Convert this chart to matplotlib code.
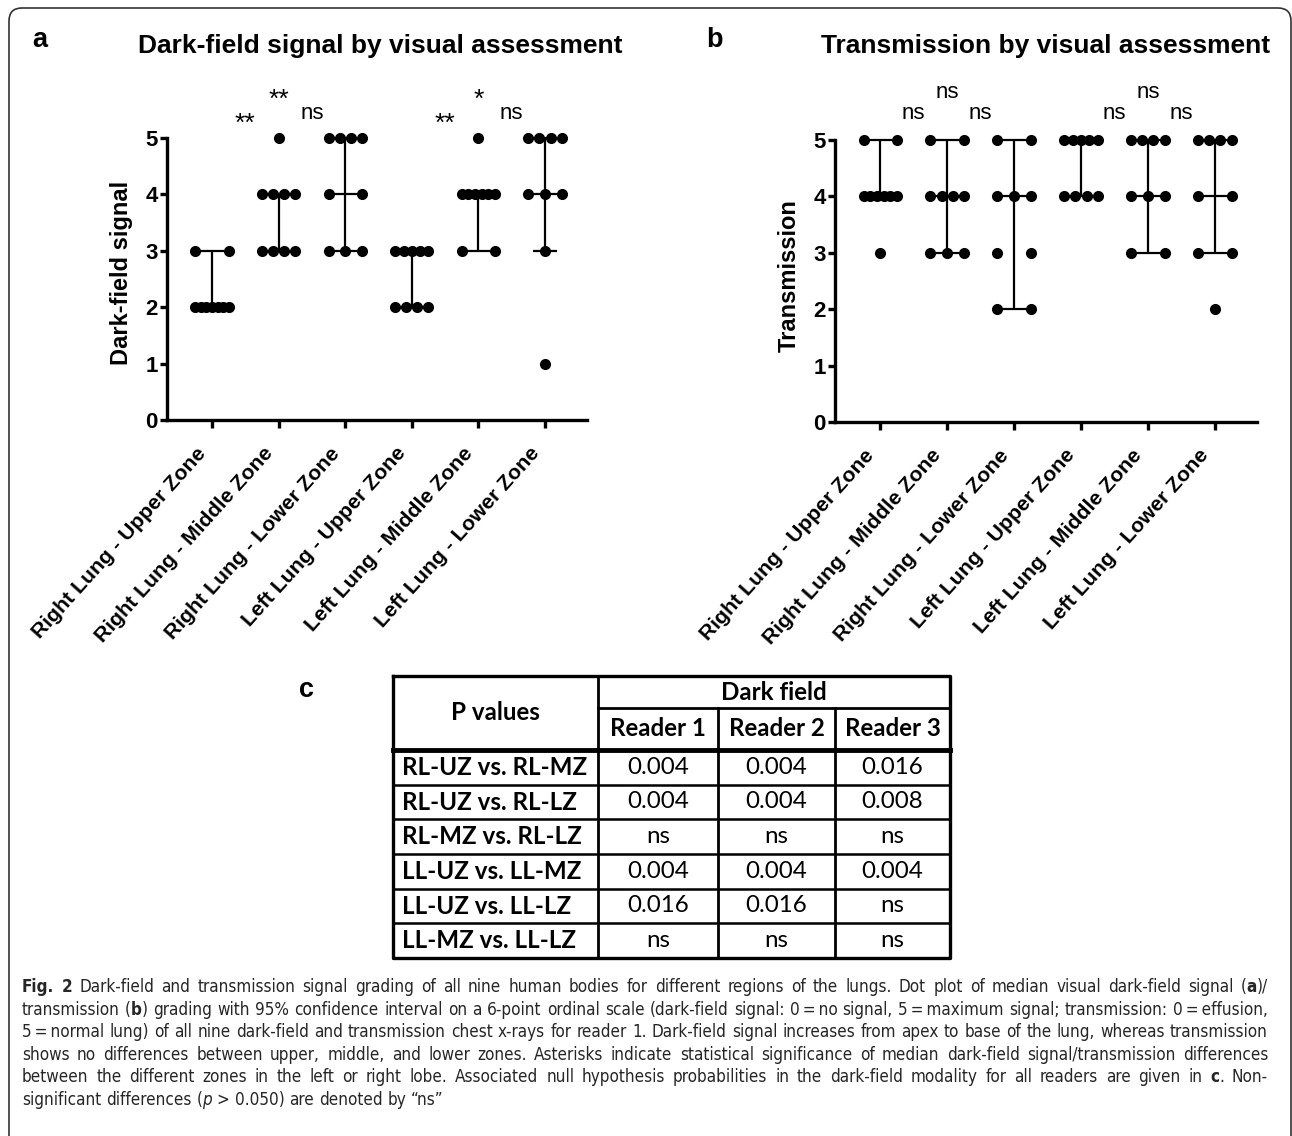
import numpy as np
import matplotlib
matplotlib.use("Agg")
import matplotlib.pyplot as plt
from matplotlib import transforms as mtransforms
from matplotlib.patches import FancyBboxPatch
from matplotlib import font_manager

# ---------------- data ----------------
categories = ["Right Lung - Upper Zone", "Right Lung - Middle Zone", "Right Lung - Lower Zone",
              "Left Lung - Upper Zone", "Left Lung - Middle Zone", "Left Lung - Lower Zone"]

darkfield_scores = [
    [2, 2, 2, 2, 2, 2, 2, 3, 3],
    [3, 3, 3, 3, 4, 4, 4, 4, 5],
    [3, 3, 3, 4, 4, 5, 5, 5, 5],
    [2, 2, 2, 2, 3, 3, 3, 3, 3],
    [3, 3, 4, 4, 4, 4, 4, 4, 5],
    [1, 3, 4, 4, 4, 5, 5, 5, 5],
]
darkfield_ci_low = [2, 3, 3, 2, 3, 3]
darkfield_ci_high = [3, 4, 5, 3, 4, 5]

transmission_scores = [
    [3, 4, 4, 4, 4, 4, 4, 5, 5],
    [3, 3, 3, 4, 4, 4, 4, 5, 5],
    [2, 2, 3, 3, 4, 4, 4, 5, 5],
    [4, 4, 4, 4, 5, 5, 5, 5, 5],
    [3, 3, 4, 4, 4, 5, 5, 5, 5],
    [2, 3, 3, 4, 4, 5, 5, 5, 5],
]
transmission_ci_low = [4, 3, 2, 4, 3, 3]
transmission_ci_high = [5, 5, 5, 5, 5, 5]

darkfield_sig_lower = ["**", "ns", "**", "ns"]
darkfield_sig_upper = ["**", "*"]
transmission_sig_lower = ["ns", "ns", "ns", "ns"]
transmission_sig_upper = ["ns", "ns"]

table_header = "P values"
table_group = "Dark field"
table_readers = ["Reader 1", "Reader 2", "Reader 3"]
table_rows = ["RL-UZ vs. RL-MZ", "RL-UZ vs. RL-LZ", "RL-MZ vs. RL-LZ",
              "LL-UZ vs. LL-MZ", "LL-UZ vs. LL-LZ", "LL-MZ vs. LL-LZ"]
reader1_p = ["0.004", "0.004", "ns", "0.004", "0.016", "ns"]
reader2_p = ["0.004", "0.004", "ns", "0.004", "0.016", "ns"]
reader3_p = ["0.016", "0.008", "ns", "0.004", "ns", "ns"]

caption_lines = [
    [("Fig. 2", "b"), (" Dark-field and transmission signal grading of all nine human bodies for different regions of the lungs. Dot plot of median visual dark-field signal (", "n"), ("a", "b"), (")/", "n")],
    [("transmission (", "n"), ("b", "b"), (") grading with 95% confidence interval on a 6-point ordinal scale (dark-field signal: 0\u2009=\u2009no signal, 5\u2009=\u2009maximum signal; transmission: 0\u2009=\u2009effusion,", "n")],
    [("5\u2009=\u2009normal lung) of all nine dark-field and transmission chest x-rays for reader 1. Dark-field signal increases from apex to base of the lung, whereas transmission", "n")],
    [("shows no differences between upper, middle, and lower zones. Asterisks indicate statistical significance of median dark-field signal/transmission differences", "n")],
    [("between the different zones in the left or right lobe. Associated null hypothesis probabilities in the dark-field modality for all readers are given in ", "n"), ("c", "b"), (". Non-", "n")],
    [("significant differences (", "n"), ("p", "i"), (" > 0.050) are denoted by \u201cns\u201d", "n")],
]

# ---------------- figure ----------------
W, H = 1292, 1136
fig = plt.figure(figsize=(W / 100, H / 100), dpi=100)
fig.patch.set_facecolor("white")
renderer = fig.canvas.get_renderer()

ARIAL = "Liberation Sans"
ttf = font_manager.fontManager.ttflist
names = {f.name for f in ttf}
TAB_FAMILY = "Lato" if "Lato" in names else "DejaVu Sans"
if "Liberation Sans Narrow" in names:
    CAP_FAMILY, CAP_STRETCH = "Liberation Sans Narrow", "normal"
elif any(f.name == "DejaVu Sans" and ("ondensed" in f.fname) for f in ttf):
    CAP_FAMILY, CAP_STRETCH = "DejaVu Sans", "condensed"
else:
    CAP_FAMILY, CAP_STRETCH = "Roboto", "normal"


def fax(x0, y0, x1, y1):
    return [x0 / W, 1 - y1 / H, (x1 - x0) / W, (y1 - y0) / H]


ov = fig.add_axes([0, 0, 1, 1], zorder=0)
ov.set_xlim(0, W)
ov.set_ylim(H, 0)
ov.axis("off")

# figure frame
frame = FancyBboxPatch((0.09, -0.3), 12.82, 11.58, boxstyle="round,pad=0,rounding_size=0.13",
                       transform=fig.dpi_scale_trans, fill=False, ec="#333333", lw=1.2)
fig.add_artist(frame)


def text_w(s, **kw):
    t = fig.text(0, 0, s, **kw)
    w = t.get_window_extent(renderer).width
    t.remove()
    return w


LW = 1.6
SPINE = 2.4
YTICKFS = 16
XTICKFS = 15.3


def draw_panel(ax, scores, lo, hi, ylabel, sig_low, sig_up, y_low, y_up):
    x = np.arange(len(categories))
    w = 0.25
    wc = 0.18
    for i, vals in enumerate(scores):
        vals = np.asarray(vals)
        med = np.median(vals)
        ax.plot([i, i], [lo[i], hi[i]], color="k", lw=LW, solid_capstyle="butt", clip_on=False, zorder=2)
        for yv in (lo[i], hi[i]):
            ax.plot([i - wc, i + wc], [yv, yv], color="k", lw=LW, solid_capstyle="butt", clip_on=False, zorder=2)
        ax.plot([i - w, i + w], [med, med], color="k", lw=LW, solid_capstyle="butt", clip_on=False, zorder=2)
        for v in np.unique(vals):
            n = int(np.sum(vals == v))
            offs = np.array([0.0]) if n == 1 else np.linspace(-w, w, n)
            ax.plot(i + offs, [v] * n, "o", color="k", ms=8.0, mec="none", clip_on=False, zorder=3)
    ax.set_xlim(-0.676, 5.63)
    ax.set_ylim(0, 5)
    ax.patch.set_visible(False)
    for s in ("top", "right"):
        ax.spines[s].set_visible(False)
    for s in ("left", "bottom"):
        ax.spines[s].set_linewidth(SPINE)
    ax.set_yticks(range(6))
    ax.set_yticklabels([str(v) for v in range(6)], fontsize=YTICKFS, fontweight="bold", family=ARIAL)
    ax.tick_params(axis="y", length=5, width=SPINE, pad=1.5)
    ax.tick_params(axis="x", length=6, width=SPINE, pad=2)
    ax.set_xticks(x)
    ax.set_xticklabels(categories, rotation=48, ha="right", va="center", rotation_mode="anchor",
                       fontsize=XTICKFS, fontweight="bold", family=ARIAL)
    off = mtransforms.ScaledTranslation(-0.09, -0.19, fig.dpi_scale_trans)
    for lbl in ax.get_xticklabels():
        lbl.set_transform(lbl.get_transform() + off)
    ax.set_ylabel(ylabel, fontsize=17, fontweight="bold", family=ARIAL)
    ax.yaxis.set_label_coords(-0.08, 0.52)
    for j, s in enumerate(sig_low):
        xp = [0.5, 1.5, 3.5, 4.5][j]
        if s == "ns":
            ax.text(xp, y_low[1], s, ha="center", va="baseline", fontsize=16, family=ARIAL, clip_on=False)
        else:
            ax.text(xp, y_low[0], s, ha="center", va="baseline", fontsize=19, family=ARIAL, clip_on=False)
    for j, s in enumerate(sig_up):
        xp = [1.0, 4.0][j]
        if s == "ns":
            ax.text(xp, y_up[1], s, ha="center", va="baseline", fontsize=16, family=ARIAL, clip_on=False)
        else:
            ax.text(xp, y_up[0], s, ha="center", va="baseline", fontsize=19, family=ARIAL, clip_on=False)


axA = fig.add_axes(fax(167, 138, 587, 420), zorder=2)
draw_panel(axA, darkfield_scores, darkfield_ci_low, darkfield_ci_high, "Dark-field signal",
           darkfield_sig_lower, darkfield_sig_upper, (5.12, 5.34), (5.55, 5.74))
axB = fig.add_axes(fax(835, 140, 1257, 422), zorder=2)
draw_panel(axB, transmission_scores, transmission_ci_low, transmission_ci_high, "Transmission",
           transmission_sig_lower, transmission_sig_upper, (5.12, 5.37), (5.55, 5.74))

# titles and panel letters
ov.text(380, 46, "Dark-field signal by visual assessment", ha="center", va="center",
        fontsize=19, fontweight="bold", family=ARIAL)
ov.text(1046, 46, "Transmission by visual assessment", ha="center", va="center",
        fontsize=19, fontweight="bold", family=ARIAL)
ov.text(40, 40, "a", ha="center", va="center", fontsize=19.5, fontweight="bold", family=ARIAL)
ov.text(714, 40, "b", ha="center", va="center", fontsize=19.5, fontweight="bold", family=ARIAL)
ov.text(306, 690, "c", ha="center", va="center", fontsize=19.5, fontweight="bold", family=ARIAL)

# ---------------- table ----------------
tx = [393, 598, 718, 835, 950]
ty_top, ty_mid, ty_head = 676, 708, 750
ty_bot = 958
row_h = (ty_bot - ty_head) / len(table_rows)

base = 16
wref = text_w(table_rows[0], fontsize=base, fontweight="bold", family=TAB_FAMILY)
tab_fs = base * 185 / wref

lk = dict(color="k", solid_capstyle="projecting")
ov.plot([tx[0], tx[-1], tx[-1], tx[0], tx[0]], [ty_top, ty_top, ty_bot, ty_bot, ty_top], lw=2.4, **lk)
ov.plot([tx[1], tx[1]], [ty_top, ty_bot], lw=2.0, **lk)
ov.plot([tx[1], tx[-1]], [ty_mid, ty_mid], lw=2.0, **lk)
for xc in tx[2:4]:
    ov.plot([xc, xc], [ty_mid, ty_bot], lw=2.0, **lk)
ov.plot([tx[0], tx[-1]], [ty_head, ty_head], lw=3.5, **lk)
for r in range(1, len(table_rows)):
    yy = ty_head + r * row_h
    ov.plot([tx[0], tx[-1]], [yy, yy], lw=1.8, **lk)

ov.text((tx[0] + tx[1]) / 2, (ty_top + ty_head) / 2, table_header, ha="center", va="center",
        fontsize=tab_fs, fontweight="bold", family=TAB_FAMILY)
ov.text((tx[1] + tx[-1]) / 2, (ty_top + ty_mid) / 2, table_group, ha="center", va="center",
        fontsize=tab_fs, fontweight="bold", family=TAB_FAMILY)
for k, rd in enumerate(table_readers):
    ov.text((tx[k + 1] + tx[k + 2]) / 2, (ty_mid + ty_head) / 2, rd, ha="center", va="center",
            fontsize=tab_fs, fontweight="bold", family=TAB_FAMILY)
cols = [reader1_p, reader2_p, reader3_p]
for r, lab in enumerate(table_rows):
    yc = ty_head + (r + 0.5) * row_h
    ov.text(tx[0] + 9, yc, lab, ha="left", va="center", fontsize=tab_fs, fontweight="bold",
            family=TAB_FAMILY)
    for k in range(3):
        ov.text((tx[k + 1] + tx[k + 2]) / 2, yc, cols[k][r], ha="center", va="center",
                fontsize=tab_fs, family=TAB_FAMILY)

# ---------------- caption ----------------
CAP_COLOR = "#262626"


def style_kw(st, fs):
    kw = dict(fontsize=fs, family=[CAP_FAMILY, "DejaVu Sans"], color=CAP_COLOR, fontstretch=CAP_STRETCH)
    if st == "b":
        kw["fontweight"] = "bold"
    elif st == "i":
        kw["fontstyle"] = "italic"
    return kw


def tokenize(segs):
    words = [[]]
    for text, st in segs:
        parts = text.split(" ")
        for i, p in enumerate(parts):
            if i > 0:
                words.append([])
            if p:
                words[-1].append((p, st))
    return [wd for wd in words if wd]


cap_left, cap_right = 22, 1268
cap_fs = 13.5
tokens = [tokenize(l) for l in caption_lines]


def line_natural(words, fs):
    return [sum(text_w(t, **style_kw(st, fs)) for t, st in wd) for wd in words]


def space_w(fs):
    return text_w("a a", **style_kw("n", fs)) - text_w("aa", **style_kw("n", fs))


sp_w = space_w(cap_fs)
maxw = max(sum(line_natural(t, cap_fs)) + sp_w * (len(t) - 1) for t in tokens[:-1])
if maxw > (cap_right - cap_left) * 0.99:
    cap_fs *= (cap_right - cap_left) * 0.99 / maxw
sp_w = space_w(cap_fs)

y0, dy = 987, 22.6
for li, words in enumerate(tokens):
    yl = y0 + li * dy
    ws = line_natural(words, cap_fs)
    if li < len(tokens) - 1:
        gap = (cap_right - cap_left - sum(ws)) / (len(words) - 1)
    else:
        gap = sp_w
    xcur = cap_left
    for wd, wdw in zip(words, ws):
        xs = xcur
        for t, st in wd:
            ov.text(xs, yl, t, ha="left", va="center", **style_kw(st, cap_fs))
            xs += text_w(t, **style_kw(st, cap_fs))
        xcur += wdw + gap

fig.savefig("out.png", dpi=100, facecolor="white")
